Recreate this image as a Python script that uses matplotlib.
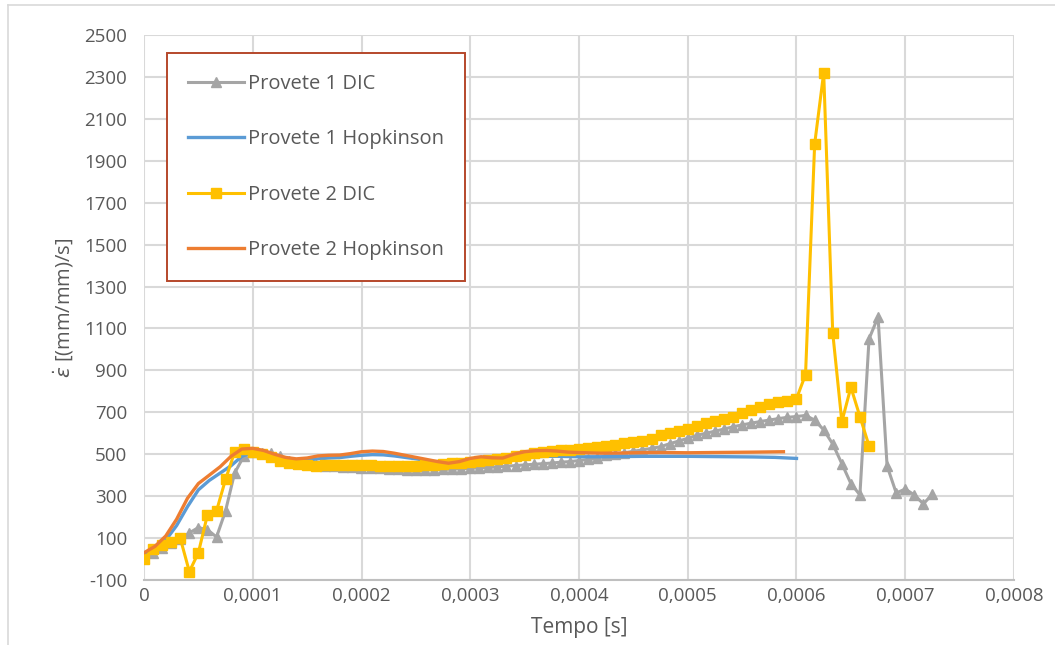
import numpy as np
import matplotlib
matplotlib.use("Agg")
import matplotlib.pyplot as plt
from matplotlib.ticker import FixedLocator, FuncFormatter
from matplotlib.lines import Line2D

# DIC measurements, one value per camera frame (time in microseconds)
dic_time_us = [
    0.0, 8.3, 16.7, 25.0, 33.3, 41.7, 50.0, 58.3, 66.7, 75.0,
    83.3, 91.7, 100.0, 108.3, 116.7, 125.0, 133.3, 141.7, 150.0, 158.3,
    166.7, 175.0, 183.3, 191.7, 200.0, 208.3, 216.7, 225.0, 233.3, 241.7,
    250.0, 258.3, 266.7, 275.0, 283.3, 291.7, 300.0, 308.3, 316.7, 325.0,
    333.3, 341.7, 350.0, 358.3, 366.7, 375.0, 383.3, 391.7, 400.0, 408.3,
    416.7, 425.0, 433.3, 441.7, 450.0, 458.3, 466.7, 475.0, 483.3, 491.7,
    500.0, 508.3, 516.7, 525.0, 533.3, 541.7, 550.0, 558.3, 566.7, 575.0,
    583.3, 591.7, 600.0, 608.3, 616.7, 625.0, 633.3, 641.7, 650.0, 658.3,
    666.7, 675.0, 683.3, 691.7, 700.0, 708.3, 716.7, 725.0,
]

provete1_dic = [
    5, 30, 55, 75, 95, 125, 150, 140, 105, 230,
    410, 490, 510, 505, 505, 490, 470, 460, 452, 448,
    445, 442, 440, 438, 436, 434, 432, 430, 428, 427,
    426, 426, 427, 428, 429, 431, 433, 435, 437, 440,
    443, 446, 449, 452, 455, 458, 462, 465, 470, 475,
    480, 494, 500, 507, 514, 521, 528, 536, 550, 563,
    576, 590, 600, 610, 620, 631, 640, 648, 656, 663,
    670, 676, 680, 685, 663, 616, 549, 455, 360, 306,
    1050, 1155, 444, 315, 334, 306, 263, 310,
]

provete2_dic = [
    0, 50, 65, 80, 100, -60, 30, 210, 230, 380,
    510, 525, 510, 500, 485, 468, 458, 452, 448, 446,
    447, 448, 449, 449, 448, 447, 446, 445, 444, 443,
    445, 447, 450, 453, 456, 459, 462, 467, 472, 478,
    484, 492, 498, 504, 510, 514, 518, 521, 525, 529,
    535, 540, 546, 552, 558, 565, 575, 590, 600, 610,
    620, 635, 650, 660, 670, 680, 695, 710, 725, 738,
    748, 755, 765, 880, 1980, 2320, 1080, 655, 820, 680,
    540,
]

# Split Hopkinson bar results (time in microseconds)
hop1_time_us = [
    0, 10, 20, 30, 40, 50, 60, 70, 80, 90,
    100, 110, 120, 130, 140, 150, 160, 170, 180, 190,
    200, 210, 220, 230, 240, 250, 260, 270, 280, 290,
    300, 310, 320, 330, 340, 350, 360, 370, 380, 390,
    400, 420, 440, 460, 480, 500, 520, 540, 560, 580, 600,
]
provete1_hopkinson = [
    25, 50, 90, 160, 250, 330, 375, 410, 445, 490,
    510, 508, 495, 480, 470, 472, 478, 482, 484, 490,
    495, 498, 497, 492, 485, 478, 470, 462, 455, 455,
    462, 470, 470, 468, 475, 482, 488, 490, 490, 489,
    488, 488, 489, 490, 490, 490, 489, 488, 487, 485, 480,
]

hop2_time_us = [
    0, 10, 20, 30, 40, 50, 60, 70, 80, 90,
    100, 110, 120, 130, 140, 150, 160, 170, 180, 190,
    200, 210, 220, 230, 240, 250, 260, 270, 280, 290,
    300, 310, 320, 330, 340, 350, 360, 370, 380, 390,
    400, 420, 440, 460, 480, 500, 520, 540, 560, 588,
]
provete2_hopkinson = [
    30, 60, 110, 190, 290, 360, 400, 440, 490, 525,
    528, 518, 500, 485, 478, 482, 492, 495, 496, 503,
    512, 515, 513, 505, 495, 485, 475, 465, 457, 465,
    480, 488, 483, 482, 500, 512, 517, 518, 515, 510,
    508, 505, 506, 508, 508, 507, 508, 509, 510, 512,
]

series_names = ["Provete 1 DIC", "Provete 1 Hopkinson",
                "Provete 2 DIC", "Provete 2 Hopkinson"]
y_ticks = list(range(-100, 2501, 200))
x_ticks = [0, 0.0001, 0.0002, 0.0003, 0.0004, 0.0005, 0.0006, 0.0007, 0.0008]

GRAY = "#A5A5A5"
BLUE = "#5B9BD5"
GOLD = "#FFC000"
ORANGE = "#ED7D31"
TEXT = "#595959"
GRID = "#D9D9D9"

plt.rcParams["font.family"] = ["Open Sans", "DejaVu Sans"]

fig = plt.figure(figsize=(10.55, 6.45), dpi=100)
ax = fig.add_axes([144 / 1055, 1 - 580 / 645, 870 / 1055, 545 / 645])

us = 1e-6
t_dic1 = np.array(dic_time_us) * us
t_dic2 = np.array(dic_time_us[:len(provete2_dic)]) * us
t_h1 = np.array(hop1_time_us) * us
t_h2 = np.array(hop2_time_us) * us

ax.plot(t_dic1, provete1_dic, color=GRAY, lw=2.2, marker="^", ms=7,
        mec=GRAY, mfc=GRAY, label=series_names[0], zorder=3)
ax.plot(t_h1, provete1_hopkinson, color=BLUE, lw=2.4,
        label=series_names[1], zorder=4)
ax.plot(t_dic2, provete2_dic, color=GOLD, lw=2.2, marker="s", ms=6.8,
        mec=GOLD, mfc=GOLD, label=series_names[2], zorder=5)
ax.plot(t_h2, provete2_hopkinson, color=ORANGE, lw=2.4,
        label=series_names[3], zorder=6)

ax.set_xlim(0, 0.0008)
ax.set_ylim(-100, 2500)
ax.xaxis.set_major_locator(FixedLocator(x_ticks))
ax.yaxis.set_major_locator(FixedLocator(y_ticks))
ax.xaxis.set_major_formatter(FuncFormatter(
    lambda v, p: "0" if abs(v) < 1e-12 else f"{v:.4f}".replace(".", ",")))
ax.yaxis.set_major_formatter(FuncFormatter(lambda v, p: f"{int(round(v))}"))

ax.grid(True, color=GRID, lw=1.5, zorder=0)
ax.set_axisbelow(True)
for side in ("top", "right", "left"):
    ax.spines[side].set_visible(False)
ax.spines["bottom"].set_color("#BFBFBF")
ax.spines["bottom"].set_linewidth(1.5)
ax.tick_params(axis="both", length=0, labelsize=13.5, colors=TEXT)
ax.tick_params(axis="y", pad=12)
ax.tick_params(axis="x", pad=5)

ax.set_xlabel("Tempo [s]", fontsize=15, color=TEXT, labelpad=9)
ax.set_ylabel(r"$\dot{\varepsilon}$ [(mm/mm)/s]", fontsize=14.5,
              color=TEXT, labelpad=6)

leg = ax.legend(loc="upper left", bbox_to_anchor=(167 / 1055, 1 - 53 / 645),
                bbox_transform=fig.transFigure, fontsize=14.5,
                handlelength=2.75, handletextpad=0.2, labelspacing=1.75,
                borderpad=1.05, borderaxespad=0, frameon=True, fancybox=False,
                framealpha=1, labelcolor=TEXT, numpoints=1)
leg.get_frame().set_edgecolor("#B5482B")
leg.get_frame().set_linewidth(1.4)

# chart-area border
fig.add_artist(Line2D([8 / 1055, 8 / 1055], [0, 1 - 5 / 645],
                      transform=fig.transFigure, color="#D9D9D9", lw=1.2))
fig.add_artist(Line2D([8 / 1055, 1], [1 - 5 / 645, 1 - 5 / 645],
                      transform=fig.transFigure, color="#D9D9D9", lw=1.2))

fig.savefig("out.png", dpi=100)
